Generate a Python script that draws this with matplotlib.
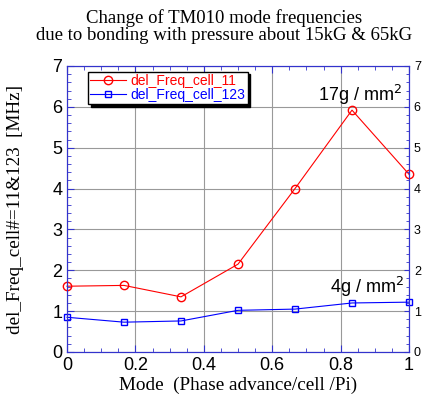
import matplotlib
matplotlib.use("Agg")
import matplotlib.pyplot as plt
from matplotlib.ticker import MultipleLocator

mode = [0, 1/6, 1/3, 0.5, 2/3, 5/6, 1.0]
cell_11 = [1.61, 1.63, 1.35, 2.15, 4.0, 5.92, 4.35]
cell_123 = [0.85, 0.73, 0.76, 1.02, 1.05, 1.2, 1.22]

fig = plt.figure(figsize=(4.25, 3.98), dpi=100)
ax = fig.add_axes([67/425, 1-352/398, (409-67)/425, (352-66)/398])
blue = "#3333cc"
ax.grid(True, color="#999999", lw=0.8)
ax.plot(mode, cell_11, color="red", lw=0.8, marker="o", ms=6, mfc="none", mec="red", label="del_Freq_cell_11", zorder=3, clip_on=False)
ax.plot(mode, cell_123, color="blue", lw=0.8, marker="s", ms=4.5, mfc="none", mec="blue", label="del_Freq_cell_123", zorder=3, clip_on=False)
ax.set_xlim(0, 1)
ax.set_ylim(0, 7)
ax.xaxis.set_minor_locator(MultipleLocator(0.05))
ax.yaxis.set_minor_locator(MultipleLocator(0.2))
for s in ax.spines.values():
    s.set_color(blue)
ax.tick_params(which="both", direction="in", colors=blue, top=True, right=True, labelcolor="black")
ax.tick_params(which="major", length=5)
ax.tick_params(which="minor", length=3)
ax.set_xticks([0, 0.2, 0.4, 0.6, 0.8, 1.0])
ax.set_xticklabels(["0", "0.2", "0.4", "0.6", "0.8", "1"], fontfamily="Liberation Sans", fontsize=13)
ax.set_yticks(range(8))
ax.set_yticklabels([str(i) for i in range(8)], fontfamily="Liberation Sans", fontsize=13)

ax2 = ax.twinx()
ax2.set_ylim(0, 7)
ax2.yaxis.set_major_locator(MultipleLocator(1))
ax2.yaxis.set_minor_locator(MultipleLocator(0.2))
ax2.tick_params(which="both", direction="in", colors=blue, labelcolor="black", labelsize=9)
for lab in ax2.get_yticklabels():
    lab.set_fontfamily("Liberation Sans")
for s in ax2.spines.values():
    s.set_color(blue)

ax.set_xlabel("Mode  (Phase advance/cell /Pi)", fontfamily="Liberation Serif", fontsize=13.8, labelpad=2)
ax.set_ylabel("del_Freq_cell#=11&123  [MHz]", fontfamily="Liberation Serif", fontsize=13.8)
ax.yaxis.set_label_coords(-0.125, 0.5)
fig.text(0.527, 0.978, "Change of TM010 mode frequencies\ndue to bonding with pressure about 15kG & 65kG",
         ha="center", va="top", fontfamily="Liberation Serif", fontsize=13.5, linespacing=1.0)

ax.text(0.735, 6.15, "17g / mm$^2$", fontfamily="Liberation Sans", fontsize=13)
ax.text(0.77, 1.45, "4g / mm$^2$", fontfamily="Liberation Sans", fontsize=13)

leg = ax.legend(loc="upper left", bbox_to_anchor=(0.05, 0.995), prop={"family": "Liberation Sans", "size": 10},
                frameon=True, fancybox=False, shadow={"color": "black", "alpha": 1}, handlelength=2.6,
                borderpad=0.15, labelspacing=0.0, handletextpad=0.3, borderaxespad=0.3)
leg.get_frame().set_edgecolor("black")
leg.get_frame().set_linewidth(1.0)
for t, c in zip(leg.get_texts(), ["red", "blue"]):
    t.set_color(c)

fig.savefig("out.png", dpi=100)
